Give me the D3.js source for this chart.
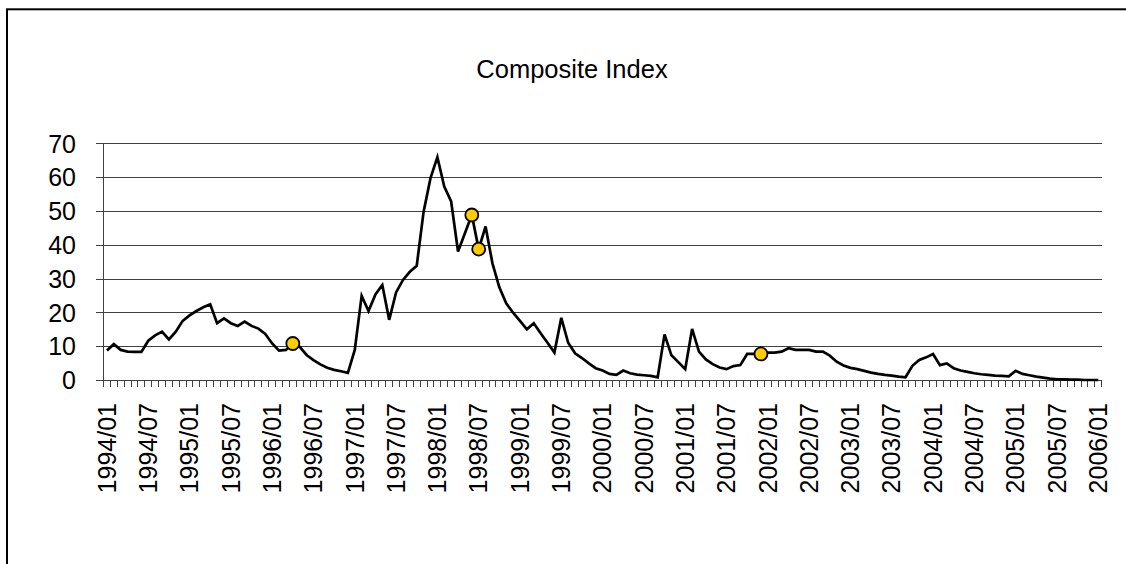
<!DOCTYPE html>
<html>
<head>
<meta charset="utf-8">
<script src="https://cdn.jsdelivr.net/npm/d3@7"></script>
<style>
  html, body { margin: 0; padding: 0; background: #fff; }
  svg { display: block; }
  text { font-family: Arial, "Liberation Sans", sans-serif; fill: #000; }
</style>
</head>
<body>
<svg id="chart" width="1126" height="564"></svg>
<script>
// ---- data ----
const chartTitle = "Composite Index";
const startYear = 1994;
const monthCount = 145; // 1994/01 .. 2006/01
const values = [
  8.7, 10.6, 8.9, 8.4, 8.3, 8.3, 11.6, 13.2, 14.3, 12.0, 14.3, 17.5,
  19.1, 20.4, 21.5, 22.4, 16.8, 18.2, 16.8, 16.0, 17.3, 16.0, 15.2, 13.6,
  10.8, 8.7, 8.9, 10.8, 9.8, 7.4, 5.9, 4.6, 3.6, 3.0, 2.6, 2.1,
  8.9, 24.9, 20.4, 25.3, 28.1, 17.8, 25.9, 29.6, 32.0, 33.8, 49.8, 59.7,
  65.9, 57.2, 52.8, 38.0, 43.4, 48.8, 38.7, 45.4, 34.5, 27.4, 22.7, 19.9,
  17.5, 15.0, 16.8, 13.8, 11.0, 8.1, 18.4, 11.0, 7.9, 6.5, 4.9, 3.5,
  2.8, 1.8, 1.5, 2.8, 2.0, 1.6, 1.4, 1.2, 0.8, 13.5, 7.3, 5.3,
  3.2, 15.1, 8.4, 6.1, 4.7, 3.7, 3.2, 4.1, 4.4, 7.7, 7.7, 7.7,
  8.1, 8.1, 8.4, 9.4, 8.9, 8.9, 8.9, 8.4, 8.4, 7.2, 5.4, 4.3,
  3.6, 3.2, 2.7, 2.2, 1.8, 1.5, 1.3, 1.0, 0.8, 4.2, 5.9, 6.7,
  7.7, 4.4, 4.9, 3.5, 2.8, 2.4, 2.0, 1.7, 1.5, 1.3, 1.2, 1.1,
  2.7, 1.8, 1.4, 1.0, 0.7, 0.4, 0.2, 0.2, 0.1, 0.1, 0.0, 0.0,
  0.0
];
const markedMonths = ["1996/04", "1998/06", "1998/07", "2001/12"];
const xTickLabels = [
  "1994/01","1994/07","1995/01","1995/07","1996/01","1996/07","1997/01","1997/07",
  "1998/01","1998/07","1999/01","1999/07","2000/01","2000/07","2001/01","2001/07",
  "2002/01","2002/07","2003/01","2003/07","2004/01","2004/07","2005/01","2005/07","2006/01"
];
const yTicks = [0, 10, 20, 30, 40, 50, 60, 70];

// categories (monthly labels)
const months = [];
for (let i = 0; i < monthCount; i++) {
  const y = startYear + Math.floor(i / 12);
  const m = (i % 12) + 1;
  months.push(y + "/" + (m < 10 ? "0" + m : m));
}
const data = months.map((m, i) => ({ month: m, value: values[i] }));

// ---- layout ----
const svg = d3.select("#chart");
const plot = { left: 103.5, right: 1101.7, top: 143.3, bottom: 380 };

const x = d3.scaleBand().domain(months).range([plot.left, plot.right]).padding(0);
const y = d3.scaleLinear().domain([0, 70]).range([plot.bottom, plot.top]);
const cx = m => x(m) + x.bandwidth() / 2;

// outer frame
svg.append("rect")
  .attr("x", 7).attr("y", 9.3)
  .attr("width", 1200).attr("height", 700)
  .attr("fill", "none").attr("stroke", "#000").attr("stroke-width", 2);

// title
svg.append("text")
  .attr("x", 572).attr("y", 78)
  .attr("text-anchor", "middle")
  .style("font-size", "25.5px")
  .text(chartTitle);

// gridlines + y-axis
const yAxis = d3.axisLeft(y)
  .tickValues(yTicks)
  .tickSize(-(plot.right - plot.left))
  .tickSizeOuter(0)
  .tickPadding(0)
  .tickFormat(d3.format("d"));
const gy = svg.append("g")
  .attr("transform", `translate(${plot.left},0)`)
  .call(yAxis);
gy.select(".domain").remove();
gy.selectAll(".tick line")
  .attr("x1", -8)
  .attr("stroke", "#404040").attr("stroke-width", 1)
  .attr("shape-rendering", "crispEdges");
gy.selectAll(".tick text")
  .attr("x", -(plot.left - 76))
  .attr("dy", "0.35em")
  .attr("text-anchor", "end")
  .style("font-size", "25px")
  .style("font-family", "Arial, 'Liberation Sans', sans-serif");

// vertical axis line
svg.append("line")
  .attr("x1", plot.left).attr("x2", plot.left)
  .attr("y1", plot.top).attr("y2", plot.bottom + 6.5)
  .attr("stroke", "#404040").attr("stroke-width", 1)
  .attr("shape-rendering", "crispEdges");

// x category tick marks at band boundaries
const boundaries = months.map(m => x(m)).concat([plot.right]);
svg.append("g").selectAll("line")
  .data(boundaries)
  .join("line")
  .attr("x1", d => d).attr("x2", d => d)
  .attr("y1", plot.bottom).attr("y2", plot.bottom + 6.5)
  .attr("stroke", "#404040").attr("stroke-width", 1)
  .attr("shape-rendering", "crispEdges");

// x labels
svg.append("g").selectAll("text")
  .data(xTickLabels)
  .join("text")
  .attr("transform", d => `translate(${cx(d)},403) rotate(-90)`)
  .attr("dy", "0.35em")
  .attr("text-anchor", "end")
  .style("font-size", "25px")
  .text(d => d);

// series line
const line = d3.line().x(d => cx(d.month)).y(d => y(d.value));
svg.append("path")
  .datum(data)
  .attr("d", line)
  .attr("fill", "none")
  .attr("stroke", "#000")
  .attr("stroke-width", 2.7)
  .attr("stroke-linejoin", "miter");

// highlighted markers
svg.append("g").selectAll("circle")
  .data(data.filter(d => markedMonths.includes(d.month)))
  .join("circle")
  .attr("cx", d => cx(d.month))
  .attr("cy", d => y(d.value))
  .attr("r", 6.5)
  .attr("fill", "#FFCC00")
  .attr("stroke", "#000")
  .attr("stroke-width", 1.8);
</script>
</body>
</html>
